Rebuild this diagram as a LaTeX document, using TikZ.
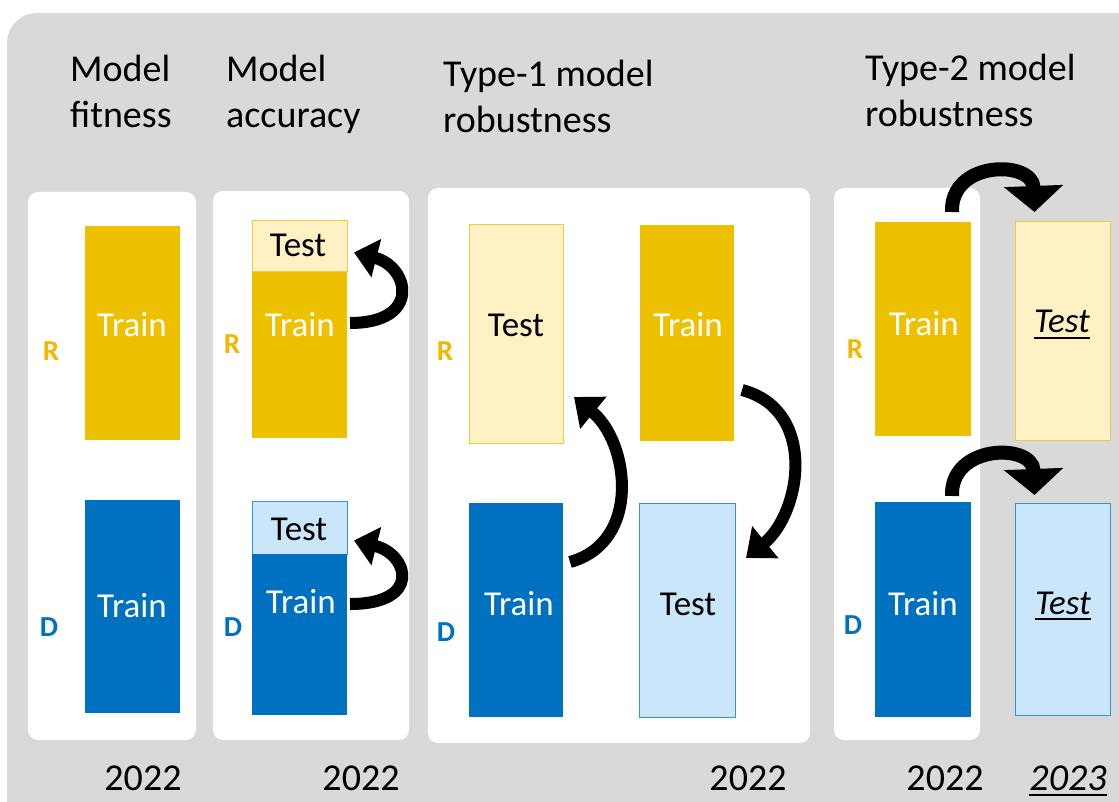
\documentclass[tikz,border=0pt]{standalone}
\usepackage{fontspec}
\setmainfont{Carlito}
\usetikzlibrary{arrows.meta,calc}

\definecolor{bggray}{HTML}{D9D9D9}
\definecolor{gold}{HTML}{EDC000}
\definecolor{goldlt}{HTML}{FFF1C4}
\definecolor{goldln}{HTML}{EFCB45}
\definecolor{dblue}{HTML}{0070C0}
\definecolor{bluelt}{HTML}{C9E6FB}
\definecolor{blueln}{HTML}{3D8FD2}
\definecolor{rlab}{HTML}{F2B700}

% italic text with a rule under it
\newcommand{\ulitext}[1]{\setbox0\hbox{\itshape #1}\rlap{\rule[-5.8pt]{\wd0}{1.6pt}}\box0}

\tikzset{
  panel/.style={fill=white, rounded corners=10pt},
  bar/.style={anchor=north west, inner sep=0pt, outer sep=0pt, line width=1pt},
  hdr/.style={anchor=base west, align=left, inner sep=0pt, font=\fontsize{38}{46}\selectfont},
  txt/.style={anchor=base, inner sep=0pt, font=\fontsize{35}{40}\selectfont},
  yr/.style={anchor=base, inner sep=0pt, font=\fontsize{38}{42}\selectfont},
  rtag/.style={inner sep=0pt, text=rlab, font=\bfseries\fontsize{29}{32}\selectfont},
  dtag/.style={inner sep=0pt, text=dblue, font=\bfseries\fontsize{29}{32}\selectfont},
  smallarrow/.style={line width=12pt, black, -{Triangle[width=38pt,length=23pt]}},
  midarrow/.style={line width=12pt, black, -{Triangle[width=40pt,length=25pt]}},
  bigarrow/.style={line width=14pt, black, -{Triangle[width=58pt,length=26pt]}},
}

\begin{document}
\begin{tikzpicture}[x=1pt,y=-1pt]
\useasboundingbox (0,0) rectangle (1119,802);

% grey backdrop
\begin{scope}
  \clip (0,0) rectangle (1119,802);
  \fill[bggray, rounded corners=30pt] (7,13) rectangle (1160,840);
\end{scope}

% white panels
\fill[panel] (28,192) rectangle (196,740);
\fill[panel] (213,191) rectangle (409,740);
\fill[panel] (428,188) rectangle (810,743);
\fill[panel] (834,188) rectangle (980,740);

% headings (anchored at the baseline of their last line)
\node[hdr] (h1) at (70,128) {Model\\fitness};
\node[hdr] (h2) at (226,128) {Model\\accuracy};
\node[hdr] (h3) at (443,133) {Type-1 model\\robustness};
\node[hdr] (h4) at (865,127) {Type-2 model\\robustness};

% ---- model fitness
\node[bar, fill=gold, minimum width=95pt, minimum height=214pt] (a-r) at (85,226) {};
\node[bar, fill=dblue, minimum width=95pt, minimum height=213pt] (a-d) at (85,500) {};
\node[txt, text=white] (a-rt) at (132,337) {Train};
\node[txt, text=white] (a-dt) at (132,617) {Train};
\node[rtag] (a-rl) at (51,351) {R};
\node[dtag] (a-dl) at (49,627) {D};

% ---- model accuracy
\node[bar, fill=goldlt, draw=goldln, minimum width=95pt, minimum height=51pt] (b-rtest) at (252,221) {};
\node[bar, fill=gold, minimum width=95pt, minimum height=166pt] (b-rtrain) at (252,272) {};
\node[bar, fill=bluelt, draw=blueln, minimum width=95pt, minimum height=53pt] (b-dtest) at (252,501) {};
\node[bar, fill=dblue, minimum width=95pt, minimum height=161pt] (b-dtrain) at (252,554) {};
\node[txt] (b-rtt) at (298,257) {Test};
\node[txt, text=white] (b-rtr) at (300,337) {Train};
\node[txt] (b-dtt) at (299,540) {Test};
\node[txt, text=white] (b-dtr) at (301,613) {Train};
\node[rtag] (b-rl) at (232,344) {R};
\node[dtag] (b-dl) at (233,627) {D};

\draw[smallarrow] ($(b-rtrain.north east)+(3,51)$)
  .. controls +(72,0) and +(55,14) .. ($(b-rtest.east)+(7,6)$);
\draw[smallarrow] ($(b-dtrain.north east)+(3,50)$)
  .. controls +(72,0) and +(55,14) .. ($(b-dtest.east)+(7,13)$);

% ---- type-1 robustness
\node[bar, fill=goldlt, draw=goldln, minimum width=94pt, minimum height=218pt] (c-rtest) at (469,225) {};
\node[bar, fill=gold, minimum width=94pt, minimum height=216pt] (c-rtrain) at (640,225) {};
\node[bar, fill=dblue, minimum width=94pt, minimum height=214pt] (c-dtrain) at (469,503) {};
\node[bar, fill=bluelt, draw=blueln, minimum width=96pt, minimum height=214pt] (c-dtest) at (639,503) {};
\node[txt] (c-rtt) at (516,337) {Test};
\node[txt, text=white] (c-rtr) at (688,337) {Train};
\node[txt, text=white] (c-dtr) at (519,615) {Train};
\node[txt] (c-dtt) at (688,615) {Test};
\node[rtag] (c-rl) at (445,351) {R};
\node[dtag] (c-dl) at (446,632) {D};

\draw[midarrow] ($(c-dtrain.east)+(7,-48)$)
  .. controls +(72,-20) and +(55,45) .. ($(c-rtest.east)+(11,63)$);
\draw[midarrow] ($(c-rtrain.east)+(8,57)$)
  .. controls +(76,20) and +(55,-45) .. ($(c-dtest.east)+(11,-52)$);

% ---- type-2 robustness
\node[bar, fill=gold, minimum width=96pt, minimum height=214pt] (d-rtrain) at (875,222) {};
\node[bar, fill=goldlt, draw=goldln, minimum width=95pt, minimum height=218pt] (d-rtest) at (1015,222) {};
\node[bar, fill=dblue, minimum width=96pt, minimum height=215pt] (d-dtrain) at (875,502) {};
\node[bar, fill=bluelt, draw=blueln, minimum width=95pt, minimum height=212pt] (d-dtest) at (1015,503) {};
\node[txt, text=white] (d-rtr) at (924,335) {Train};
\node[txt] (d-rtt) at (1062,333) {\ulitext{Test}};
\node[txt, text=white] (d-dtr) at (923,615) {Train};
\node[txt] (d-dtt) at (1063,614) {\ulitext{Test}};
\node[rtag] (d-rl) at (855,349) {R};
\node[dtag] (d-dl) at (853,625) {D};

\draw[bigarrow] ($(d-rtrain.north)+(29,-10)$)
  .. controls +(-2,-52) and +(-2,-52) .. ($(d-rtest.north)+(-28,-10)$);
\draw[bigarrow] ($(d-dtrain.north)+(29,-6)$)
  .. controls +(-2,-52) and +(-2,-52) .. ($(d-dtest.north)+(-28,-8)$);

% years
\node[yr] (y1) at (143,790) {2022};
\node[yr] (y2) at (361,790) {2022};
\node[yr] (y3) at (748,790) {2022};
\node[yr] (y4) at (945,790) {2022};
\node[yr] (y5) at (1068,790) {\ulitext{2023}};
\end{tikzpicture}
\end{document}
